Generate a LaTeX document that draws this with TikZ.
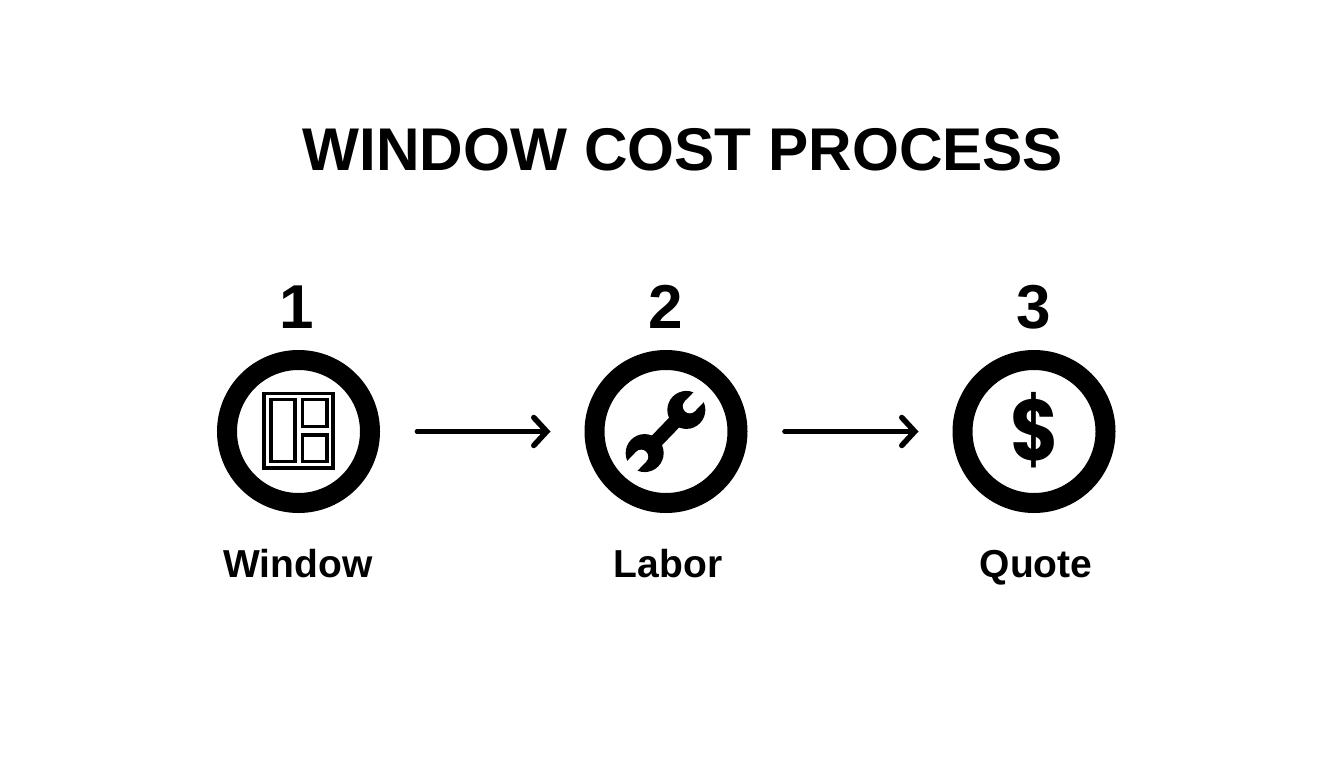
\documentclass[tikz,border=0pt]{standalone}
\usepackage{fontspec}
\setmainfont{Liberation Sans}[BoldFont={Liberation Sans Bold}]
\newfontfamily\iconfont{Poppins}[BoldFont={Poppins Bold}]
\usetikzlibrary{arrows.meta}
\tikzset{
  ring/.style={circle,draw=black,line width=20pt,minimum size=143pt,inner sep=0pt,fill=white,outer sep=10pt},
  titletext/.style={font=\fontsize{60.3}{62}\selectfont\bfseries,text=black,inner sep=0pt,anchor=base},
  numtext/.style={font=\fontsize{62}{62}\selectfont\bfseries,text=black,inner sep=0pt,anchor=base},
  labeltext/.style={font=\fontsize{39}{40}\selectfont\bfseries,text=black,inner sep=0pt,anchor=base},
  conn/.style={line width=4.6pt,line cap=round,-{Straight Barb[length=13pt,width=28pt,line width=5.5pt,line cap=round]}},
  pane/.style={draw=black,line width=3.6pt},
}
\begin{document}
\begin{tikzpicture}[x=1pt,y=-1pt]
\useasboundingbox (0,0) rectangle (1344,768);
\fill[white] (0,0) rectangle (1344,768);
\node[titletext] (title) at (683,170) {WINDOW COST PROCESS};
\node[ring] (c1) at (298.5,431.5) {};
\node[ring] (c2) at (666,431.5) {};
\node[ring] (c3) at (1034,431.5) {};
\node[numtext] (n1) at (297,328) {1};
\node[numtext] (n2) at (666,328) {2};
\node[numtext] (n3) at (1034,328) {3};
\node[labeltext] (l1) at (298,577) {Window};
\node[labeltext] (l2) at (668,577) {Labor};
\node[labeltext] (l3) at (1036,577) {Quote};
\draw[conn] ([xshift=37pt]c1.east) -- ([xshift=-34pt]c2.west);
\draw[conn] ([xshift=37pt]c2.east) -- ([xshift=-34pt]c3.west);
% window icon
\draw[pane] (264,393.5) rectangle (333,468);
\draw[pane] (270.8,399.5) rectangle (295.2,461.5);
\draw[pane] (302.5,399.5) rectangle (327,426.5);
\draw[pane] (302.5,435) rectangle (327,461.5);
% wrench icon
\begin{scope}[shift={(665.5,431.5)},rotate=46]
  \fill[black] (-30,-7) rectangle (30,7);
  \fill[black] (-30,0) circle (19);
  \fill[black] (30,0) circle (19);
  \fill[white] (35,-7) rectangle (55,7);
  \fill[white] (-35,-7) rectangle (-55,7);
  \fill[white] (35,0) circle (7);
  \fill[white] (-35,0) circle (7);
\end{scope}
\node[font=\iconfont\fontsize{86}{86}\selectfont\bfseries,inner sep=0pt,xscale=0.86,transform shape] (dollar) at (1034.5,430) {\$};
\end{tikzpicture}
\end{document}
